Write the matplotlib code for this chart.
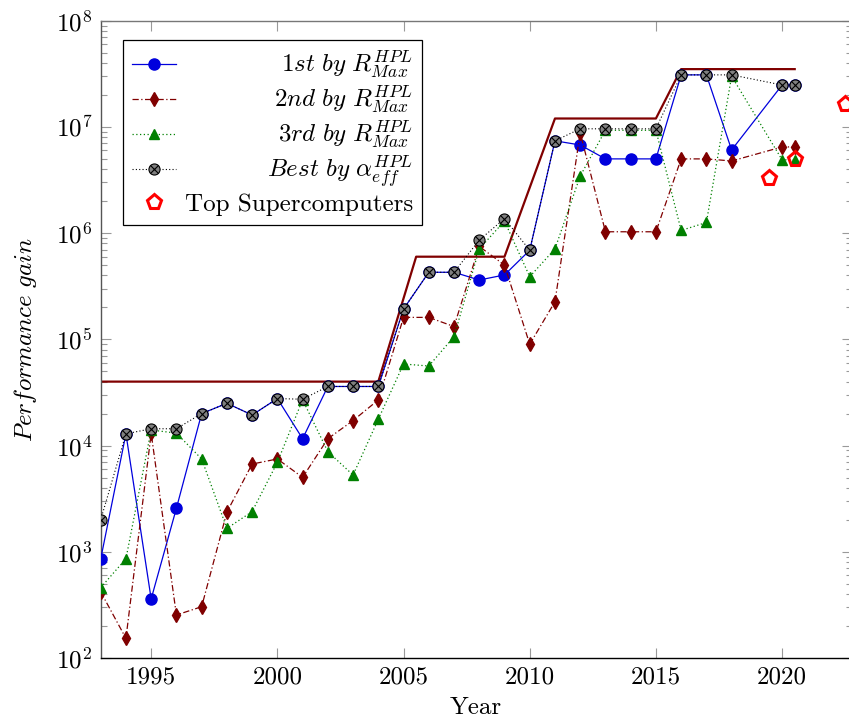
import numpy as np
import matplotlib
matplotlib.use("Agg")
import matplotlib.pyplot as plt

plt.rcParams["font.family"] = "cmr10"
plt.rcParams["mathtext.fontset"] = "cm"
plt.rcParams["axes.formatter.use_mathtext"] = True

# Data
years = [1993, 1994, 1995, 1996, 1997, 1998, 1999, 2000, 2001, 2002, 2003, 2004,
         2005, 2006, 2007, 2008, 2009, 2010, 2011, 2012, 2013, 2014, 2015, 2016,
         2017, 2018, 2020, 2020.5]

first = [855, 1.29e4, 360, 2.57e3, 2.0e4, 2.5e4, 1.94e4, 2.77e4, 1.16e4, 3.6e4, 3.6e4, 3.6e4,
         1.93e5, 4.28e5, 4.28e5, 3.62e5, 4.04e5, 6.9e5,
         7.4e6, 6.76e6, 5.0e6, 5.0e6, 5.0e6, 3.09e7, 3.09e7, 6.07e6,
         2.48e7, 2.48e7]

second = [420, 153, 1.3e4, 254, 304, 2.36e3, 6.7e3, 7.48e3, 5.02e3, 1.16e4, 1.72e4, 2.69e4,
          1.61e5, 1.61e5, 1.32e5, 7.5e5, 5.0e5, 9.0e4,
          2.26e5, 8.8e6, 1.03e6, 1.03e6, 1.03e6, 5.0e6, 5.0e6, 4.78e6,
          6.48e6, 6.48e6]

third = [460, 860, 1.4e4, 1.31e4, 7.48e3, 1.66e3, 2.39e3, 6.95e3, 2.7e4, 8.77e3, 5.28e3, 1.77e4,
         5.86e4, 5.61e4, 1.06e5, 7.1e5, 1.3e6, 3.89e5,
         7.1e5, 3.45e6, 9.3e6, 9.3e6, 9.3e6, 1.06e6, 1.26e6, 3.0e7,
         4.9e6, 4.9e6]

best = [2000, 1.29e4, 1.44e4, 1.44e4, 2.0e4, 2.5e4, 1.94e4, 2.77e4, 2.73e4, 3.6e4, 3.6e4, 3.6e4,
        1.93e5, 4.28e5, 4.28e5, 8.6e5, 1.37e6, 6.9e5,
        7.4e6, 9.6e6, 9.6e6, 9.6e6, 9.6e6, 3.09e7, 3.09e7, 3.09e7,
        2.48e7, 2.48e7]

top_years = [2019.5, 2020.5, 2022.5]
top_vals = [3.33e6, 4.97e6, 1.64e7]

step_years = [1993, 2004, 2005.5, 2009, 2011, 2015, 2016, 2020.5]
step_vals = [4e4, 4e4, 6e5, 6e5, 1.2e7, 1.2e7, 3.5e7, 3.5e7]

xticks = [1995, 2000, 2005, 2010, 2015, 2020]

fs = 18
W, H = 849, 720
fig = plt.figure(figsize=(W / 100, H / 100), dpi=100)
ax = fig.add_axes([100.7 / W, 62 / H, (851.5 - 100.7) / W, (658 - 20.7) / H])

darkred = "#800000"
ax.plot(step_years, step_vals, color=darkred, lw=1.6, zorder=2)

l1, = ax.plot(years, first, color="#0000dd", lw=0.9, marker="o", ms=8,
              mfc="#0000dd", mec="#0000dd", zorder=3)
l2, = ax.plot(years, second, color=darkred, lw=0.9, ls=(0, (5, 2, 1, 2)), marker="d",
              ms=7.5, mfc=darkred, mec=darkred, zorder=3)
l3, = ax.plot(years, third, color="#008000", lw=0.9, ls=(0, (1, 2)), marker="^",
              ms=7.5, mfc="#008000", mec="#008000", zorder=3)
l4, = ax.plot(years, best, color="black", lw=0.8, ls=(0, (1, 2)), marker="o", ms=8,
              mfc="#808080", mec="black", mew=0.8, zorder=4)
l4x, = ax.plot(years, best, ls="none", marker="x", ms=5.2, mec="black", mew=0.8, zorder=5)
l5, = ax.plot(top_years, top_vals, ls="none", marker="p", ms=11, mfc="none", mec="red",
              mew=2.2, zorder=6, clip_on=False)

ax.set_yscale("log")
ax.set_ylim(1e2, 1e8)
ax.set_xlim(1993, 2022.75)
ax.set_xticks(xticks)
ax.set_xticklabels([str(t) for t in xticks])

ax.tick_params(which="both", direction="in", top=True, right=True, color="#999999",
               labelsize=fs, width=0.8)
ax.tick_params(which="major", length=7, pad=6)
ax.tick_params(which="minor", length=4.5)
for s in ax.spines.values():
    s.set_linewidth(1.0)
ax.spines["top"].set_color("#777777")
ax.spines["left"].set_color("#555555")

ax.set_xlabel("Year", fontsize=fs, labelpad=6)
ax.set_ylabel(r"$Performance\ gain$", fontsize=fs, labelpad=12)

labels = [r"$1st\ by\ R^{HPL}_{Max}$", r"$2nd\ by\ R^{HPL}_{Max}$",
          r"$3rd\ by\ R^{HPL}_{Max}$", r"$Best\ by\ \alpha^{HPL}_{eff}$",
          "Top Supercomputers"]
leg = ax.legend([l1, l2, l3, (l4, l4x), l5], labels, loc="upper left",
                bbox_to_anchor=(22.6 / 750.8, 1 - 19.3 / 637.3), borderaxespad=0,
                fontsize=fs, fancybox=False, edgecolor="black", framealpha=1,
                handlelength=1.75, handletextpad=0.35, borderpad=0.35,
                labelspacing=0.12)
leg.get_frame().set_linewidth(0.9)
leg.set_zorder(10)

# right-align the legend labels, like the original
fig.canvas.draw()
r = fig.canvas.get_renderer()
widths = [t.get_window_extent(r).width for t in leg.get_texts()]
mw = max(widths)
col = leg._legend_handle_box.get_children()[0]
for box, w in zip(col.get_children(), widths):
    box.sep += (mw - w) * 72 / fig.dpi

fig.savefig("out.png", dpi=100)
